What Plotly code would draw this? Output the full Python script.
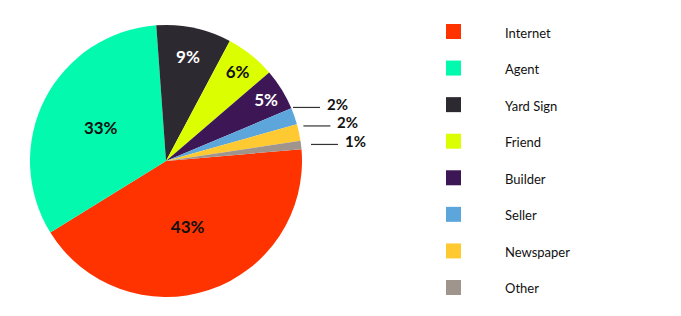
import math
import plotly.graph_objects as go

categories = ["Internet", "Agent", "Yard Sign", "Friend", "Builder", "Seller", "Newspaper", "Other"]
values = [43, 33, 9, 6, 5, 2, 2, 1]
colors = ["#FF3300", "#03FAAE", "#2D2930", "#DBFF00", "#3D1656", "#5DA6DC", "#FFC931", "#A0958D"]
label_colors = ["#111111", "#111111", "#FFFFFF", "#111111", "#FFFFFF", "#111111", "#111111", "#111111"]

W, H = 681, 316
FONT = "Lato"

# pie placement (pixels)
cx, cy, R = 166, 161, 136
rotation = 85
inside_cut = 5  # first N slices labelled inside

fig = go.Figure()
fig.add_trace(go.Pie(
    labels=categories, values=values, sort=False, direction="clockwise",
    rotation=rotation,
    marker=dict(colors=colors, line=dict(width=0)),
    texttemplate="<b>%{value}%</b>",
    textposition=["inside"] * inside_cut + ["none"] * (len(values) - inside_cut),
    insidetextorientation="horizontal",
    insidetextfont=dict(family=FONT, size=17, color=label_colors),
    domain=dict(x=[(cx - R) / W, (cx + R) / W], y=[1 - (cy + R) / H, 1 - (cy - R) / H]),
    showlegend=False, hoverinfo="label+percent",
))

shapes = []
annotations = []
total = sum(values)

# desired label heights for the small outside slices
cum = 0
outside = []
for i, v in enumerate(values):
    start = cum
    cum += v
    if i < inside_cut:
        continue
    mid = (start + v / 2) / total * 360.0
    ang = math.radians(rotation + mid)  # clockwise from 12 o'clock
    ty = cy - R * math.cos(ang) - 4
    outside.append([v, ty])

# spread labels so they do not collide (work upward from the lowest)
min_gap = 18.5
for k in range(len(outside) - 2, -1, -1):
    if outside[k][1] > outside[k + 1][1] - min_gap:
        outside[k][1] = outside[k + 1][1] - min_gap

for n, (v, ty) in enumerate(outside):
    ly = ty + 3.5
    ex = cx + math.sqrt(max(R * R - (ly - cy) ** 2, 0))
    x0 = ex + 2 + 4 * n
    x1 = x0 + 27
    shapes.append(dict(type="line", xref="paper", yref="paper",
                       x0=x0 / W, x1=x1 / W, y0=1 - ly / H, y1=1 - ly / H,
                       line=dict(color="#333333", width=1.2)))
    annotations.append(dict(x=(x1 + 5) / W, y=1 - ty / H, xref="paper", yref="paper",
                            text=f"<b>{v}%</b>", showarrow=False, xanchor="left", yanchor="middle",
                            font=dict(family=FONT, size=15, color="#111111")))

# legend
leg_x, leg_y0, leg_dy, sq = 446, 31.5, 36.57, 15
for i, (c, col) in enumerate(zip(categories, colors)):
    yc = leg_y0 + i * leg_dy
    shapes.append(dict(type="rect", xref="paper", yref="paper",
                       x0=leg_x / W, x1=(leg_x + sq) / W,
                       y0=1 - (yc + sq / 2) / H, y1=1 - (yc - sq / 2) / H,
                       fillcolor=col, line=dict(width=0)))
    annotations.append(dict(x=503 / W, y=1 - (yc + 1) / H, xref="paper", yref="paper",
                            text=c, showarrow=False, xanchor="left", yanchor="middle",
                            font=dict(family=FONT, size=13, color="#111111")))

fig.update_layout(
    width=W, height=H, margin=dict(l=0, r=0, t=0, b=0),
    paper_bgcolor="white", plot_bgcolor="white",
    shapes=shapes, annotations=annotations,
    uniformtext=dict(minsize=17, mode="show"),
)
fig.write_html("out.html")
